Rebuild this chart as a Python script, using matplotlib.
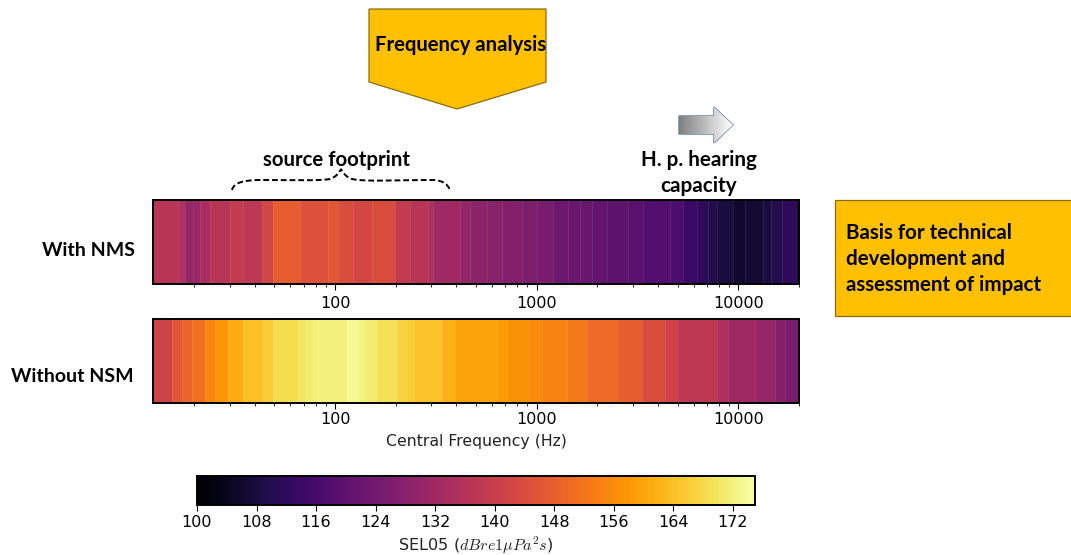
#!/usr/bin/env python3
# SEL05 spectra with and without noise mitigation, plus the slide annotations

import numpy as np
import matplotlib
matplotlib.use('Agg')
import matplotlib.pyplot as plt
from matplotlib.patches import Polygon, Rectangle, PathPatch
from matplotlib.path import Path

plt.rcParams['mathtext.fontset'] = 'cm'

W, H = 1071, 555

# --- data ---
with_nms_edges = [12.5, 16.7, 18.0, 19.8, 21.4, 24.0, 30.1, 35.1, 43.3, 49.4, 67.0, 92.7, 103.8, 123, 152, 198,
                  235, 290, 307, 417, 467, 565, 670, 842, 1000, 1208, 1435, 1640, 1875, 2225, 2845, 3380,
                  4580, 5330, 6210, 7100, 7800, 9440, 10800, 13300, 14600, 16400, 19450, 20000]
with_nms_sel = [137, 135.5, 130, 131, 134, 137, 139, 138, 142, 147.5, 145, 146.5, 144, 142.5, 144, 139,
                137, 135, 132, 130, 129, 128, 127, 126, 125, 123, 122, 122, 121, 120, 119.5,
                118, 117, 114, 112, 110, 108, 106, 107, 108, 110, 112, 103]

without_nsm_edges = [12.5, 15.5, 17.4, 19.5, 22.7, 25.4, 29.6, 35.1, 44.1, 49.4, 65.8, 71.0, 78.0, 114, 131, 141,
                     161, 202, 227, 245, 338, 394, 633, 710, 908, 1059, 1409, 1770, 2541, 3311, 4325, 5035,
                     7800, 8913, 12080, 15170, 17020, 20000]
without_nsm_sel = [141.5, 146, 149, 151, 155, 158, 161, 164, 166, 168.5, 169.5, 171, 172, 173.5, 172, 171,
                   169, 167, 166, 164.5, 162, 159.5, 158.5, 157, 156, 154.5, 153, 150, 148, 144, 141.5,
                   138, 135, 132, 130, 127, 125]

freq_ticks = [100, 1000, 10000]
sel_ticks = [100, 108, 116, 124, 132, 140, 148, 156, 164, 172]


def px_axes(fig, x0, y0, x1, y1, **kw):
    # axes from pixel box, y measured from the top of the image
    return fig.add_axes([x0 / W, 1 - y1 / H, (x1 - x0) / W, (y1 - y0) / H], **kw)


def spectrum(ax, edges, values, pad):
    mesh = ax.pcolormesh(edges, [0, 1], [values], cmap='inferno', vmin=100, vmax=175,
                         antialiased=True, linewidth=0)
    # faint seams between the bands
    ax.vlines(edges[1:-1], 0, 1, color='white', alpha=0.09, linewidth=0.7)
    ax.set_xscale('log')
    ax.set_xlim(12.5, 20000)
    ax.set_ylim(0, 1)
    ax.set_yticks([])
    ax.set_xticks(freq_ticks)
    ax.set_xticklabels([str(t) for t in freq_ticks], fontsize=11.5)
    ax.tick_params(axis='x', which='major', length=4, pad=pad)
    ax.tick_params(axis='x', which='minor', length=2, labelbottom=False)
    for s in ax.spines.values():
        s.set_linewidth(1.4)
    return mesh


fig = plt.figure(figsize=(W / 100, H / 100), dpi=100)

ax1 = px_axes(fig, 153, 200, 799, 284)
mesh = spectrum(ax1, with_nms_edges, with_nms_sel, 5)
ax2 = px_axes(fig, 153, 319, 799, 403)
spectrum(ax2, without_nsm_edges, without_nsm_sel, 2.5)
ax2.set_xlabel('Central Frequency (Hz)', fontsize=11.3, labelpad=5, color='#222222')

cax = px_axes(fig, 197, 476, 755, 505)
cb = fig.colorbar(mesh, cax=cax, orientation='horizontal')
cb.set_ticks(sel_ticks)
cb.ax.tick_params(labelsize=11.5, length=4, pad=3.5)
cb.outline.set_linewidth(1.4)
cb.set_label(r'SEL05 ($dB re 1\mu Pa^2 s$)', fontsize=11.6, labelpad=3, color='#222222')

# --- slide shapes drawn on top, in image pixels ---
ov = fig.add_axes([0, 0, 1, 1], zorder=5)
ov.set_xlim(0, W)
ov.set_ylim(H, 0)
ov.axis('off')
ov.patch.set_alpha(0)

ov.add_patch(Polygon([(369, 9), (546, 9), (546, 82), (457, 109), (369, 82)], closed=True,
                     facecolor='#ffc000', edgecolor='#8a6d10', linewidth=0.9))
ov.add_patch(Rectangle((835, 200), 240, 115.5, facecolor='#ffc000', edgecolor='#8a6d10', linewidth=0.9))

# block arrow with grey to white fill
arrow_xy = [(679, 116), (714, 116), (714, 107), (733, 125), (714, 143), (714, 134), (679, 134)]
arrow = Polygon(arrow_xy, closed=True, facecolor='none', edgecolor='#5a77a8', linewidth=1)
ov.add_patch(arrow)
grad = ov.imshow(np.linspace(0, 1, 64).reshape(1, -1), cmap='gray', vmin=-1, vmax=1,
                 extent=(679, 733, 143, 107), aspect='auto', zorder=1)
grad.set_clip_path(arrow)
ov.set_xlim(0, W)
ov.set_ylim(H, 0)

# dashed brace over the footprint band
brace = Path([(232, 190), (234, 182), (245, 180), (262, 180),
              (290, 180), (320, 181), (330, 179),
              (336, 177), (339, 173), (341, 169),
              (343, 173), (346, 177), (352, 179),
              (365, 182), (400, 180), (430, 180),
              (442, 180), (447, 183), (450, 190)],
             [Path.MOVETO] + [Path.CURVE4] * 18)
ov.add_patch(PathPatch(brace, facecolor='none', edgecolor='black', linewidth=1.4, linestyle=(0, (3, 1.5))))

slide_font = dict(family='Lato', fontweight='bold', color='black')
ov.text(460.5, 45, 'Frequency analysis', ha='center', va='center', fontsize=14.6, **slide_font)
ov.text(336.5, 160, 'source footprint', ha='center', va='center', fontsize=14.7, **slide_font)
ov.text(699, 160, 'H. p. hearing', ha='center', va='center', fontsize=14.9, **slide_font)
ov.text(699, 186, 'capacity', ha='center', va='center', fontsize=14.9, **slide_font)
ov.text(88, 251, 'With NMS', ha='center', va='center', fontsize=14, **slide_font)
ov.text(72, 376, 'Without NSM', ha='center', va='center', fontsize=14, **slide_font)
ov.text(846, 233, 'Basis for technical', ha='left', va='center', fontsize=14.8, **slide_font)
ov.text(846, 259, 'development and', ha='left', va='center', fontsize=14.8, **slide_font)
ov.text(846, 285, 'assessment of impact', ha='left', va='center', fontsize=14.8, **slide_font)

fig.savefig('out.png', dpi=100)
